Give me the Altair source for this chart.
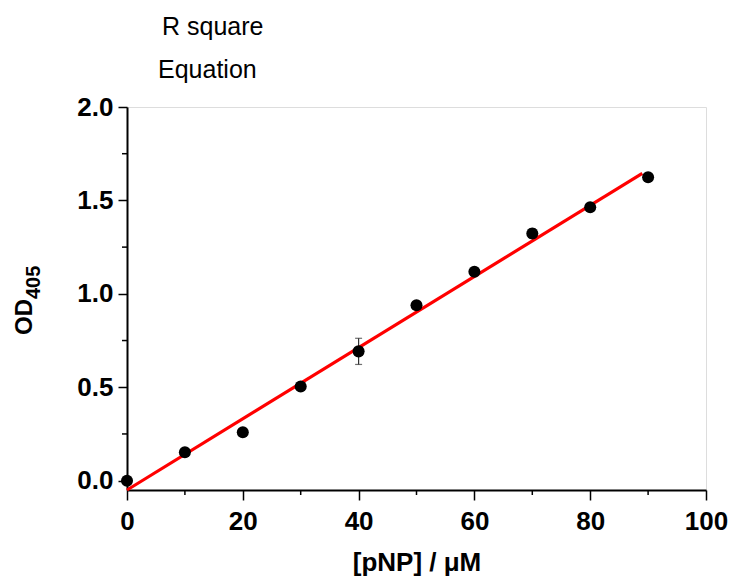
import altair as alt
import pandas as pd

# Data
conc = [0, 10, 20, 30, 40, 50, 60, 70, 80, 90]
od = [0.0, 0.152, 0.259, 0.504, 0.692, 0.939, 1.118, 1.323, 1.463, 1.624]
err = [0.0, 0.0, 0.0, 0.0, 0.07, 0.0, 0.0, 0.025, 0.0, 0.0]

fit_x = [0, 89]
fit_y = [-0.05, 1.645]

y_major = [0.0, 0.5, 1.0, 1.5, 2.0]
y_minor = [0.25, 0.75, 1.25, 1.75]
x_major = [0, 20, 40, 60, 80, 100]
x_minor = [10, 30, 50, 70, 90]

notes = ["R square", "Equation"]
x_title = "[pNP] / μM"
y_title_main = "OD"
y_title_sub = "405"

FONT = "Liberation Sans"
W, H = 579, 383

pts = pd.DataFrame({"x": conc, "y": od, "lo": [a - b for a, b in zip(od, err)],
                    "hi": [a + b for a, b in zip(od, err)], "e": err})
errdf = pts[pts["e"] > 0]
fit = pd.DataFrame({"x": fit_x, "y": fit_y})

xscale = alt.Scale(domain=[0, 100], nice=False, zero=False)
yscale = alt.Scale(domain=[-0.05, 2.0], nice=False, zero=False)

xaxis = alt.Axis(values=x_major, format="d", grid=False, tickSize=10, tickWidth=1.5,
                 tickColor="black", domainColor="black", domainWidth=2,
                 labelFont=FONT, labelFontSize=26, labelFontWeight="bold", labelColor="black",
                 labelPadding=8, labelFlush=False, labelOverlap=False,
                 title=x_title, titleFont=FONT, titleFontSize=26, titleFontWeight="bold",
                 titleColor="black", titleBaseline="alphabetic", titleY=80)
yaxis = alt.Axis(values=y_major, format=".1f", grid=False, tickSize=9, tickWidth=1.5,
                 tickColor="black", domainColor="black", domainWidth=2,
                 labelFont=FONT, labelFontSize=26, labelFontWeight="bold", labelColor="black",
                 labelPadding=5, labelFlush=False, labelOverlap=False, title=None)

line = alt.Chart(fit).mark_line(color="#ff0000", strokeWidth=3.2).encode(
    x=alt.X("x:Q", scale=xscale, axis=xaxis),
    y=alt.Y("y:Q", scale=yscale, axis=yaxis),
)

ebar_rule = alt.Chart(errdf).mark_rule(color="#333333", strokeWidth=1.2).encode(
    x="x:Q", y="lo:Q", y2="hi:Q")
ebar_cap_lo = alt.Chart(errdf).mark_tick(color="#333333", orient="horizontal",
                                         size=7, thickness=1.2).encode(x="x:Q", y="lo:Q")
ebar_cap_hi = alt.Chart(errdf).mark_tick(color="#333333", orient="horizontal",
                                         size=7, thickness=1.2).encode(x="x:Q", y="hi:Q")

points = alt.Chart(pts).mark_circle(color="black", opacity=1, size=145).encode(
    x="x:Q", y="y:Q")

yminor = alt.Chart(pd.DataFrame({"v": y_minor})).mark_rule(color="black", strokeWidth=1.5).encode(
    y="v:Q", x=alt.value(-5), x2=alt.value(0))
xminor = alt.Chart(pd.DataFrame({"v": x_minor})).mark_rule(color="black", strokeWidth=1.5).encode(
    x="v:Q", y=alt.value(H), y2=alt.value(H + 5))

one = pd.DataFrame({"a": [0]})
note1 = alt.Chart(one).mark_text(text=notes[0], font=FONT, fontSize=25, align="left",
                                 baseline="alphabetic", color="black").encode(
    x=alt.value(35), y=alt.value(-72))
note2 = alt.Chart(one).mark_text(text=notes[1], font=FONT, fontSize=25, align="left",
                                 baseline="alphabetic", color="black").encode(
    x=alt.value(31), y=alt.value(-29))

yt1 = alt.Chart(one).mark_text(text=y_title_main, font=FONT, fontSize=24, fontWeight="bold",
                               angle=270, align="left", baseline="alphabetic",
                               color="black").encode(x=alt.value(-95), y=alt.value(228))
yt2 = alt.Chart(one).mark_text(text=y_title_sub, font=FONT, fontSize=20, fontWeight="bold",
                               angle=270, align="left", baseline="alphabetic",
                               color="black").encode(x=alt.value(-87), y=alt.value(192))

chart = alt.layer(line, ebar_rule, ebar_cap_lo, ebar_cap_hi, points, yminor, xminor,
                  note1, note2, yt1, yt2).properties(
    width=W, height=H,
    autosize=alt.AutoSizeParams(type="none"),
    padding={"left": 127, "top": 107, "right": 25, "bottom": 86},
).configure_view(stroke="transparent", strokeWidth=0, strokeOpacity=0).configure(background="white")

chart.save("out.html", embed_options={"renderer": "svg", "actions": False})
